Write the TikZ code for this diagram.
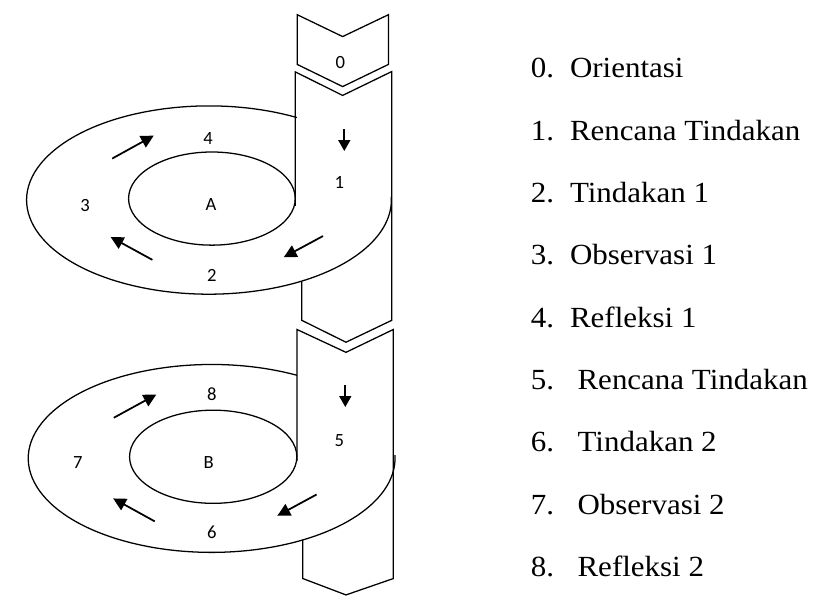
\documentclass[tikz,border=0pt]{standalone}
\usepackage{fontspec}
\setmainfont{Liberation Serif}
\newfontfamily\legendfont[FakeStretch=1.06]{Liberation Serif}
\newfontfamily\diagfont{Carlito}
\usetikzlibrary{arrows.meta}

\begin{document}
\begin{tikzpicture}[x=1pt,y=1pt,
  outline/.style={line width=1.3pt,line join=miter},
  flow/.style={line width=1.8pt,-{Triangle[length=13pt,width=13pt]}},
  downflow/.style={line width=1.8pt,-{Triangle[length=11pt,width=12pt]}},
  lbl/.style={font=\diagfont\fontsize{19}{22}\selectfont,inner sep=0pt},
  itemnum/.style={font=\legendfont\fontsize{29.8}{34}\selectfont,anchor=base west,inner sep=0pt},
  itemtxt/.style={font=\legendfont\fontsize{29.8}{34}\selectfont,anchor=base west,inner sep=0pt}]

\path (0,0) rectangle (814,-608);

% ---- stage 0 chevron ----
\draw[outline] (287,-15) -- (333.3,-37.3) -- (380,-15) -- (380,-65.7)
  -- (333.3,-88.3) -- (287,-65.7) -- cycle;

% ---- cycle A ----
% vertical band through the ring
\draw[outline] (285,-210) -- (285,-73.3) -- (333.3,-97.3) -- (383.3,-73)
  -- (383.3,-326.7) -- (336.7,-349) -- (291.7,-326.7) -- (291.7,-286.6);
% outer ring, passing in front of the band at the bottom
\draw[outline] (197,-204) ++(61.2:186pt and 96pt)
  arc[start angle=61.2,end angle=362,x radius=186,y radius=96];
% inner ring
\draw[outline] (200,-202.5) ellipse[x radius=85,y radius=47.5];

% ---- cycle B ----
\draw[outline] (286.7,-470) -- (286.7,-336) -- (336.7,-359.3) -- (385,-336)
  -- (385,-590) -- (336.7,-606.7) -- (292.7,-590) -- (292.7,-550.6);
\draw[outline] (199.7,-467.5) ++(62.3:187pt and 95.8pt)
  arc[start angle=62.3,end angle=362,x radius=187,y radius=95.8];
\draw[outline] (201.3,-465.8) ellipse[x radius=85.3,y radius=47.5];

% ---- step labels ----
\node[lbl] (s0) at (331,-63.3) {0};
\node[lbl] (s1) at (330,-186) {1};
\node[lbl] (s2) at (200,-280.7) {2};
\node[lbl] (s3) at (70.7,-209.3) {3};
\node[lbl] (s4) at (196,-141.7) {4};
\node[lbl] (cA) at (199,-208.3) {A};
\node[lbl] (s5) at (330,-449.3) {5};
\node[lbl] (s6) at (200,-543.3) {6};
\node[lbl] (s7) at (63.3,-471.7) {7};
\node[lbl] (s8) at (200,-401.7) {8};
\node[lbl] (cB) at (196.7,-471.7) {B};

% ---- direction arrows, cycle A ----
\coordinate (a1s) at (335,-131.7); \coordinate (a1e) at (335,-154);
\coordinate (a2s) at (313.3,-240.7); \coordinate (a2e) at (273.3,-262.3);
\coordinate (a3s) at (139.3,-265); \coordinate (a3e) at (96.7,-241.7);
\coordinate (a4s) at (98.3,-161.7); \coordinate (a4e) at (140.7,-138.3);
\draw[downflow] (a1s) -- (a1e);
\draw[flow] (a2s) -- (a2e);
\draw[flow] (a3s) -- (a3e);
\draw[flow] (a4s) -- (a4e);

% ---- direction arrows, cycle B ----
\coordinate (b1s) at (336,-392.7); \coordinate (b1e) at (336,-415);
\coordinate (b2s) at (306.7,-504.3); \coordinate (b2e) at (266.7,-526);
\coordinate (b3s) at (141.7,-531.7); \coordinate (b3e) at (99.3,-508.3);
\coordinate (b4s) at (100,-426); \coordinate (b4e) at (143.3,-402.3);
\draw[downflow] (b1s) -- (b1e);
\draw[flow] (b2s) -- (b2e);
\draw[flow] (b3s) -- (b3e);
\draw[flow] (b4s) -- (b4e);

% ---- legend ----
\node[itemnum] (k0) at (525,-79.3) {0.};
\node[itemtxt] (t0) at (565,-79.3) {Orientasi};
\node[itemnum] (k1) at (525,-142.9) {1.};
\node[itemtxt] (t1) at (565,-142.9) {Rencana Tindakan};
\node[itemnum] (k2) at (525,-206.5) {2.};
\node[itemtxt] (t2) at (565,-206.5) {Tindakan 1};
\node[itemnum] (k3) at (525,-270.1) {3.};
\node[itemtxt] (t3) at (565,-270.1) {Observasi 1};
\node[itemnum] (k4) at (525,-333.7) {4.};
\node[itemtxt] (t4) at (565,-333.7) {Refleksi 1};
\node[itemnum] (k5) at (525,-397.3) {5.};
\node[itemtxt] (t5) at (572.7,-397.3) {Rencana Tindakan};
\node[itemnum] (k6) at (525,-460.9) {6.};
\node[itemtxt] (t6) at (572.7,-460.9) {Tindakan 2};
\node[itemnum] (k7) at (525,-524.5) {7.};
\node[itemtxt] (t7) at (572.7,-524.5) {Observasi 2};
\node[itemnum] (k8) at (525,-588.1) {8.};
\node[itemtxt] (t8) at (572.7,-588.1) {Refleksi 2};

\end{tikzpicture}
\end{document}
